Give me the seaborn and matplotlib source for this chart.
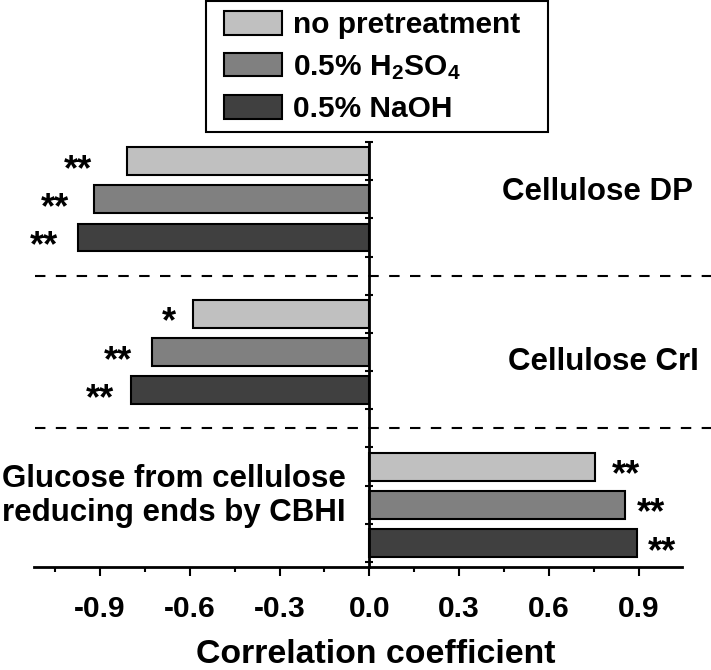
import numpy as np
import pandas as pd
import matplotlib
matplotlib.use("Agg")
import matplotlib.pyplot as plt
from matplotlib.patches import Patch, Rectangle
from matplotlib.ticker import MultipleLocator, FormatStrFormatter
import seaborn as sns

# ---- data ----
groups = ["Cellulose DP", "Cellulose CrI", "Glucose from cellulose\nreducing ends by CBHI"]
treatments = ["no pretreatment", "0.5% H$_2$SO$_4$", "0.5% NaOH"]
dp_values = [-0.81, -0.92, -0.975]
cri_values = [-0.59, -0.727, -0.796]
glc_values = [0.755, 0.853, 0.894]
dp_sig = ["**", "**", "**"]
cri_sig = ["*", "**", "**"]
glc_sig = ["**", "**", "**"]
colors = ["#c0c0c0", "#808080", "#404040"]
x_ticks = [-0.9, -0.6, -0.3, 0.0, 0.3, 0.6, 0.9]
# gap (points) between bar end and significance marks
star_gaps = [[25, 18, 14], [12, 14, 12], [12, 9, 8]]

sns.set_theme(style="white")
plt.rcParams["font.family"] = ["Liberation Sans", "DejaVu Sans"]
plt.rcParams["font.weight"] = "bold"
plt.rcParams["axes.unicode_minus"] = False
plt.rcParams["mathtext.fontset"] = "custom"
plt.rcParams["mathtext.rm"] = "Liberation Sans:bold"
plt.rcParams["mathtext.it"] = "Liberation Sans:bold"
plt.rcParams["mathtext.bf"] = "Liberation Sans:bold"
for k in ["text.color", "axes.labelcolor", "xtick.color", "ytick.color", "axes.edgecolor"]:
    plt.rcParams[k] = "black"

rows = []
order = []
all_vals = [dp_values, cri_values, glc_values]
all_sig = [dp_sig, cri_sig, glc_sig]
for gi, g in enumerate(groups):
    for ti, t in enumerate(treatments):
        key = f"{gi}|{ti}"
        rows.append({"slot": key, "treatment": t, "r": all_vals[gi][ti],
                     "sig": all_sig[gi][ti], "gap": star_gaps[gi][ti]})
        order.append(key)
    if gi < len(groups) - 1:
        order.append(f"gap{gi}")
df = pd.DataFrame(rows)

fig = plt.figure(figsize=(7.11, 6.70), dpi=100)
ax = fig.add_axes([34 / 711, 1 - 567 / 670, (682 - 34) / 711, (567 - 142) / 670])

sns.barplot(data=df, x="r", y="slot", order=order, hue="treatment", hue_order=treatments,
            palette=colors, dodge=False, width=0.73, edgecolor="black", linewidth=1.5,
            saturation=1, legend=False, ax=ax)

ax.set_xlim(-1.121, 1.045)
ax.set_ylim(10.63, -0.5)
ax.set_yticks(np.arange(-0.5, 11.0, 1.0))
ax.set_yticklabels([])
ax.set_xticks(x_ticks)
ax.xaxis.set_minor_locator(MultipleLocator(0.15))
ax.xaxis.set_major_formatter(FormatStrFormatter("%.1f"))
ax.set_ylabel("")
ax.set_xlabel("Correlation coefficient", fontsize=24.4, fontweight="bold", labelpad=10,
              color="black")
ax.xaxis.set_label_coords((376 - 34) / 648, -0.205)
ax.xaxis.label.set_va("center")

for side in ["top", "right"]:
    ax.spines[side].set_visible(False)
ax.spines["left"].set_position(("data", 0))
ax.spines["left"].set_linewidth(2)
ax.spines["bottom"].set_linewidth(2)
ax.tick_params(axis="x", which="major", direction="out", length=6.5, width=1.5,
               labelsize=21.5, pad=14, colors="black", bottom=True)
ax.tick_params(axis="x", which="minor", direction="out", length=3.5, width=1.5, bottom=True,
               colors="black")
ax.tick_params(axis="y", which="major", direction="inout", length=6, width=1.5, left=True,
               colors="black")
for lab in ax.get_xticklabels():
    lab.set_fontweight("bold")

# significance stars
for _, row in df.iterrows():
    pos = order.index(row["slot"])
    v = row["r"]
    dx = -row["gap"] if v < 0 else row["gap"]
    ax.annotate(row["sig"], xy=(v, pos), xytext=(dx, -13.5), textcoords="offset points",
                ha="right" if v < 0 else "left", va="baseline", fontsize=26,
                fontweight="bold", color="black", annotation_clip=False)

# dashed separators
for yy in [3, 7]:
    ax.plot([-1.118, 1.15], [yy, yy], color="black", lw=1.5, ls=(0, (5, 5)), clip_on=False)

# group labels
ax.text(1.082, 0.8, groups[0], ha="right", va="center", fontsize=22.5, fontweight="bold",
        color="black", transform=ax.transData, clip_on=False)
ax.text(1.1, 5.26, groups[1], ha="right", va="center", fontsize=22.5, fontweight="bold",
        color="black", transform=ax.transData, clip_on=False)
fig.text(2 / 711, 1 - 496 / 670, groups[2], ha="left", va="center", fontsize=22.5,
         fontweight="bold", color="black", linespacing=1.15)

# legend
fig.patches.append(Rectangle((206 / 711, 1 - 132 / 670), (548 - 206) / 711, (132 - 1) / 670,
                             transform=fig.transFigure, facecolor="white", edgecolor="black",
                             linewidth=1.5, zorder=0))
handles = [Patch(facecolor=c, edgecolor="black", linewidth=1.5) for c in colors]
leg = fig.legend(handles, treatments, loc="upper left", bbox_to_anchor=(218 / 711, 1 - 5 / 670),
                 frameon=False, fontsize=21.5,
                 handlelength=1.95, handleheight=0.85, handletextpad=0.36, labelspacing=0.45,
                 borderpad=0.2, borderaxespad=0)
for t in leg.get_texts():
    t.set_fontweight("bold")
    t.set_color("black")

fig.savefig("out.png", dpi=100)
